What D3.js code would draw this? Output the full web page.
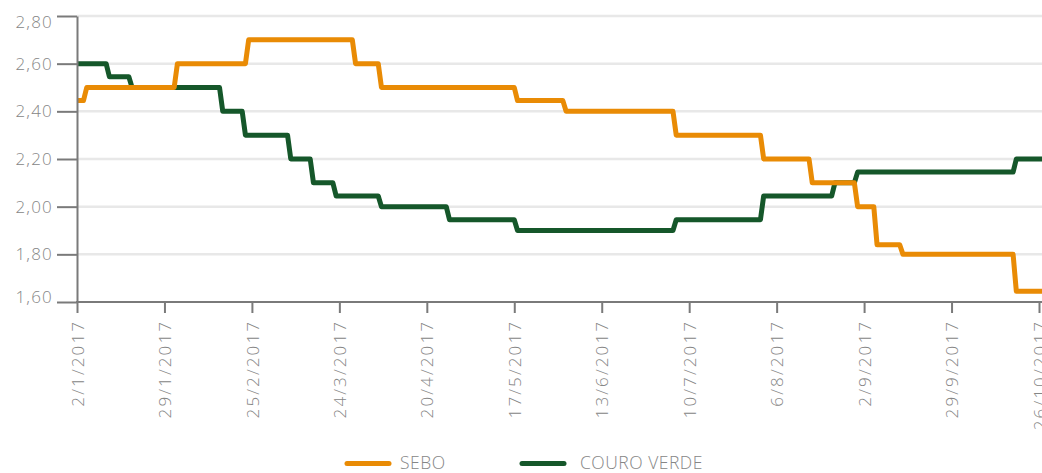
<!DOCTYPE html>
<html>
<head>
<meta charset="utf-8">
<script src="https://cdn.jsdelivr.net/npm/d3@7"></script>
<style>
  html, body { margin: 0; padding: 0; background: #ffffff; }
  svg { display: block; }
  text { font-family: "Open Sans", "Liberation Sans", Arial, sans-serif; font-weight: 300; fill: #868686; }
</style>
</head>
<body>
<svg id="chart" width="1042" height="473"></svg>
<script>
// Price steps: each entry is the date a new price starts, with the price held until the next change
const seboDates   = ["2/1/2017", "5/1/2017", "2/2/2017", "24/2/2017", "29/3/2017", "6/4/2017", "18/5/2017",
                     "2/6/2017", "6/7/2017", "2/8/2017", "17/8/2017", "31/8/2017", "6/9/2017", "14/9/2017", "19/10/2017"];
const seboValues  = [2.445, 2.50, 2.60, 2.70, 2.60, 2.50, 2.445,
                     2.40, 2.30, 2.20, 2.10, 2.00, 1.84, 1.80, 1.645];

const couroDates  = ["2/1/2017", "12/1/2017", "19/1/2017", "16/2/2017", "23/2/2017", "9/3/2017", "16/3/2017",
                     "23/3/2017", "6/4/2017", "27/4/2017", "18/5/2017", "6/7/2017", "2/8/2017", "24/8/2017",
                     "31/8/2017", "19/10/2017"];
const couroValues = [2.60, 2.545, 2.50, 2.40, 2.30, 2.20, 2.10,
                     2.045, 2.00, 1.945, 1.90, 1.945, 2.045, 2.10,
                     2.145, 2.20];

const lastDate = "27/10/2017";

const xTickLabels = ["2/1/2017", "29/1/2017", "25/2/2017", "24/3/2017", "20/4/2017", "17/5/2017",
                     "13/6/2017", "10/7/2017", "6/8/2017", "2/9/2017", "29/9/2017", "26/10/2017"];
const yTickValues = [1.6, 1.8, 2.0, 2.2, 2.4, 2.6, 2.8];

const seriesNames  = ["SEBO", "COURO VERDE"];
const seriesColors = ["#e98b05", "#15572a"];

const parse = d3.utcParse("%d/%m/%Y");
const fmt = d3.utcFormat("%-d/%-m/%Y");

const svg = d3.select("#chart");
const plotLeft = 77, plotRight = 1042, plotTop = 16, plotBottom = 302;

const x = d3.scaleUtc()
  .domain([parse(xTickLabels[0]), parse(xTickLabels[xTickLabels.length - 1])])
  .range([plotLeft, 1039]);
const y = d3.scaleLinear().domain([1.6, 2.8]).range([plotBottom, plotTop]);

// horizontal gridlines
svg.append("g")
  .selectAll("line")
  .data(yTickValues.filter(v => v > 1.6))
  .join("line")
  .attr("x1", plotLeft).attr("x2", plotRight)
  .attr("y1", d => y(d)).attr("y2", d => y(d))
  .attr("stroke", "#e8e8e8").attr("stroke-width", 2.5);

// turn step data into a polyline: each price runs until the day before the next change
function stepPoints(dates, values) {
  const pts = [];
  const end = parse(lastDate);
  for (let i = 0; i < dates.length; i++) {
    const start = parse(dates[i]);
    const stop = i + 1 < dates.length ? d3.utcDay.offset(parse(dates[i + 1]), -1) : end;
    pts.push([start, values[i]]);
    pts.push([stop, values[i]]);
  }
  return pts;
}

const line = d3.line().x(d => x(d[0])).y(d => y(d[1]));

const plot = svg.append("g");
plot.append("path")
  .datum(stepPoints(couroDates, couroValues))
  .attr("d", line)
  .attr("fill", "none")
  .attr("stroke", seriesColors[1])
  .attr("stroke-width", 5)
  .attr("stroke-linejoin", "round");
plot.append("path")
  .datum(stepPoints(seboDates, seboValues))
  .attr("d", line)
  .attr("fill", "none")
  .attr("stroke", seriesColors[0])
  .attr("stroke-width", 5)
  .attr("stroke-linejoin", "round");

// y axis
const yAxis = svg.append("g")
  .attr("transform", `translate(${plotLeft},0)`)
  .call(d3.axisLeft(y)
    .tickValues(yTickValues)
    .tickSize(20)
    .tickSizeOuter(0)
    .tickPadding(4)
    .tickFormat(d => d.toFixed(2).replace(".", ",")));
yAxis.select(".domain").attr("stroke", "#7a7a7a").attr("stroke-width", 2);
yAxis.selectAll(".tick line").attr("stroke", "#7a7a7a").attr("stroke-width", 2);
yAxis.selectAll(".tick text")
  .attr("font-size", 17)
  .attr("letter-spacing", 1.2)
  .attr("fill", "#868686")
  .attr("font-family", null)
  .attr("dy", d => d === 2.8 ? "0.68em" : d === 1.6 ? "0.0em" : "0.32em");

// x axis
const xAxis = svg.append("g")
  .attr("transform", `translate(0,${plotBottom})`)
  .call(d3.axisBottom(x)
    .tickValues(xTickLabels.map(parse))
    .tickSize(11)
    .tickSizeOuter(0)
    .tickFormat(fmt));
xAxis.select(".domain").remove();
xAxis.append("line")
  .attr("x1", plotLeft - 1).attr("x2", plotRight)
  .attr("stroke", "#7a7a7a").attr("stroke-width", 2);
xAxis.selectAll(".tick line").attr("stroke", "#7a7a7a").attr("stroke-width", 2);
xAxis.selectAll(".tick text")
  .attr("font-size", 17)
  .attr("letter-spacing", 2.1)
  .attr("fill", "#868686")
  .attr("font-family", null)
  .attr("transform", "rotate(-90)")
  .attr("x", -18)
  .attr("y", 0)
  .attr("dy", "0.36em")
  .style("text-anchor", "end");

// legend
const legendX = [347, 522];
const legend = svg.append("g");
seriesNames.forEach((name, i) => {
  legend.append("line")
    .attr("x1", legendX[i]).attr("x2", legendX[i] + 42)
    .attr("y1", 463.5).attr("y2", 463.5)
    .attr("stroke", seriesColors[i])
    .attr("stroke-width", 5)
    .attr("stroke-linecap", "round");
  legend.append("text")
    .attr("x", legendX[i] + (i === 0 ? 53 : 58))
    .attr("y", 469)
    .attr("font-size", 17.5)
    .attr("letter-spacing", 0.5)
    .text(name);
});
</script>
</body>
</html>
